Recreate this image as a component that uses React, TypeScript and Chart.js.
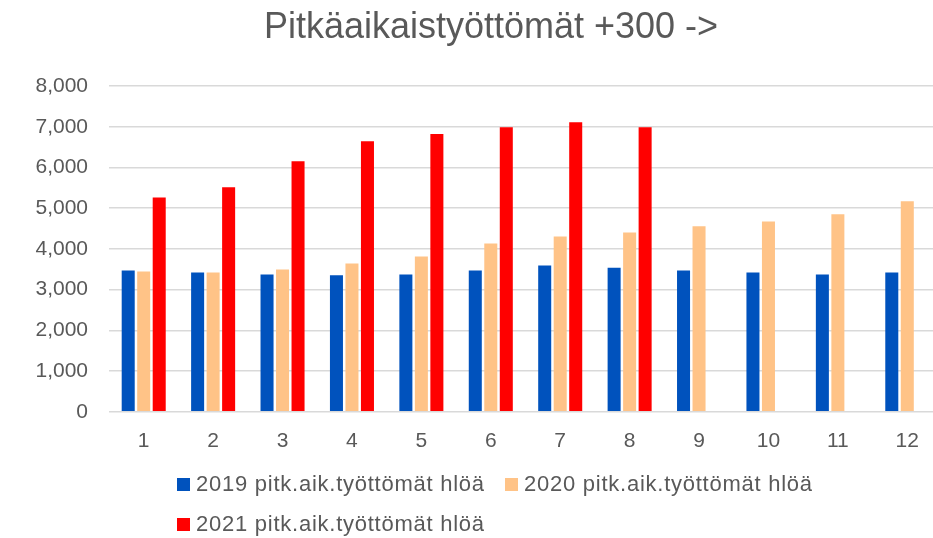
import React, { useEffect, useRef } from "react";
import { Chart, registerables } from "chart.js";

Chart.register(...registerables);

const months = ["1", "2", "3", "4", "5", "6", "7", "8", "9", "10", "11", "12"];
const values2019 = [3470, 3420, 3370, 3350, 3370, 3470, 3590, 3540, 3470, 3420, 3370, 3420];
const values2020 = [3445, 3420, 3495, 3640, 3815, 4135, 4305, 4405, 4555, 4675, 4850, 5170];
const values2021 = [5265, 5515, 6155, 6645, 6820, 6990, 7110, 6990, null, null, null, null];
const seriesNames = [
  "2019 pitk.aik.työttömät hlöä",
  "2020 pitk.aik.työttömät hlöä",
  "2021 pitk.aik.työttömät hlöä",
];
const seriesColors = ["#0052BD", "#FFC387", "#FF0000"];
const titleText = "Pitkäaikaistyöttömät +300 ->";

const FONT = '"Liberation Sans", Arial, sans-serif';
const TEXT = "#595959";

export default function App() {
  const canvasRef = useRef<HTMLCanvasElement | null>(null);

  useEffect(() => {
    const canvas = canvasRef.current;
    if (!canvas) return;
    const chart = new Chart(canvas, {
      type: "bar",
      data: {
        labels: months,
        datasets: [values2019, values2020, values2021].map((d, i) => ({
          label: seriesNames[i],
          data: d,
          backgroundColor: seriesColors[i],
          borderWidth: 0,
          categoryPercentage: 0.67,
          barPercentage: 0.84,
        })),
      },
      options: {
        animation: false,
        responsive: false,
        maintainAspectRatio: false,
        layout: { padding: { top: 86, bottom: 67, left: 0, right: 0 } },
        plugins: {
          legend: { display: false },
          title: { display: false },
          tooltip: { enabled: false },
        },
        scales: {
          x: {
            grid: { display: false, drawTicks: false },
            border: { display: false },
            ticks: {
              color: TEXT,
              font: { family: FONT, size: 21 },
              padding: 17,
            },
          },
          y: {
            min: 0,
            max: 8000,
            afterFit: (axis: any) => {
              axis.width = 109;
            },
            grid: { color: "#d9d9d9", lineWidth: 1.5, drawTicks: false },
            border: { display: false },
            ticks: {
              stepSize: 1000,
              color: TEXT,
              font: { family: FONT, size: 21 },
              padding: 21,
              callback: (v: any) => Number(v).toLocaleString("en-US"),
            },
          },
        },
      },
    });
    return () => chart.destroy();
  }, []);

  const legendPos = [
    { left: 177, top: 473 },
    { left: 505, top: 473 },
    { left: 177, top: 513 },
  ];

  return (
    <div
      style={{
        position: "fixed",
        left: 0,
        top: 0,
        width: 933,
        height: 538,
        overflow: "hidden",
        background: "#ffffff",
      }}
    >
      <canvas
        ref={canvasRef}
        width={942}
        height={538}
        style={{ position: "absolute", left: 0, top: 0, width: 942, height: 538 }}
      />
      <div
        style={{
          position: "absolute",
          left: 491,
          top: 8,
          transform: "translateX(-50%)",
          whiteSpace: "nowrap",
          fontFamily: FONT,
          fontSize: 36,
          lineHeight: "36px",
          color: TEXT,
        }}
      >
        {titleText}
      </div>
      {seriesNames.map((name, i) => (
        <div
          key={name}
          style={{
            position: "absolute",
            left: legendPos[i].left,
            top: legendPos[i].top,
            height: 22,
            display: "flex",
            alignItems: "center",
            whiteSpace: "nowrap",
          }}
        >
          <span
            style={{
              display: "inline-block",
              width: 13,
              height: 13,
              background: seriesColors[i],
              marginRight: 6,
            }}
          />
          <span
            style={{
              fontFamily: FONT,
              fontSize: 22,
              lineHeight: "22px",
              letterSpacing: "0.75px",
              color: TEXT,
            }}
          >
            {name}
          </span>
        </div>
      ))}
    </div>
  );
}
